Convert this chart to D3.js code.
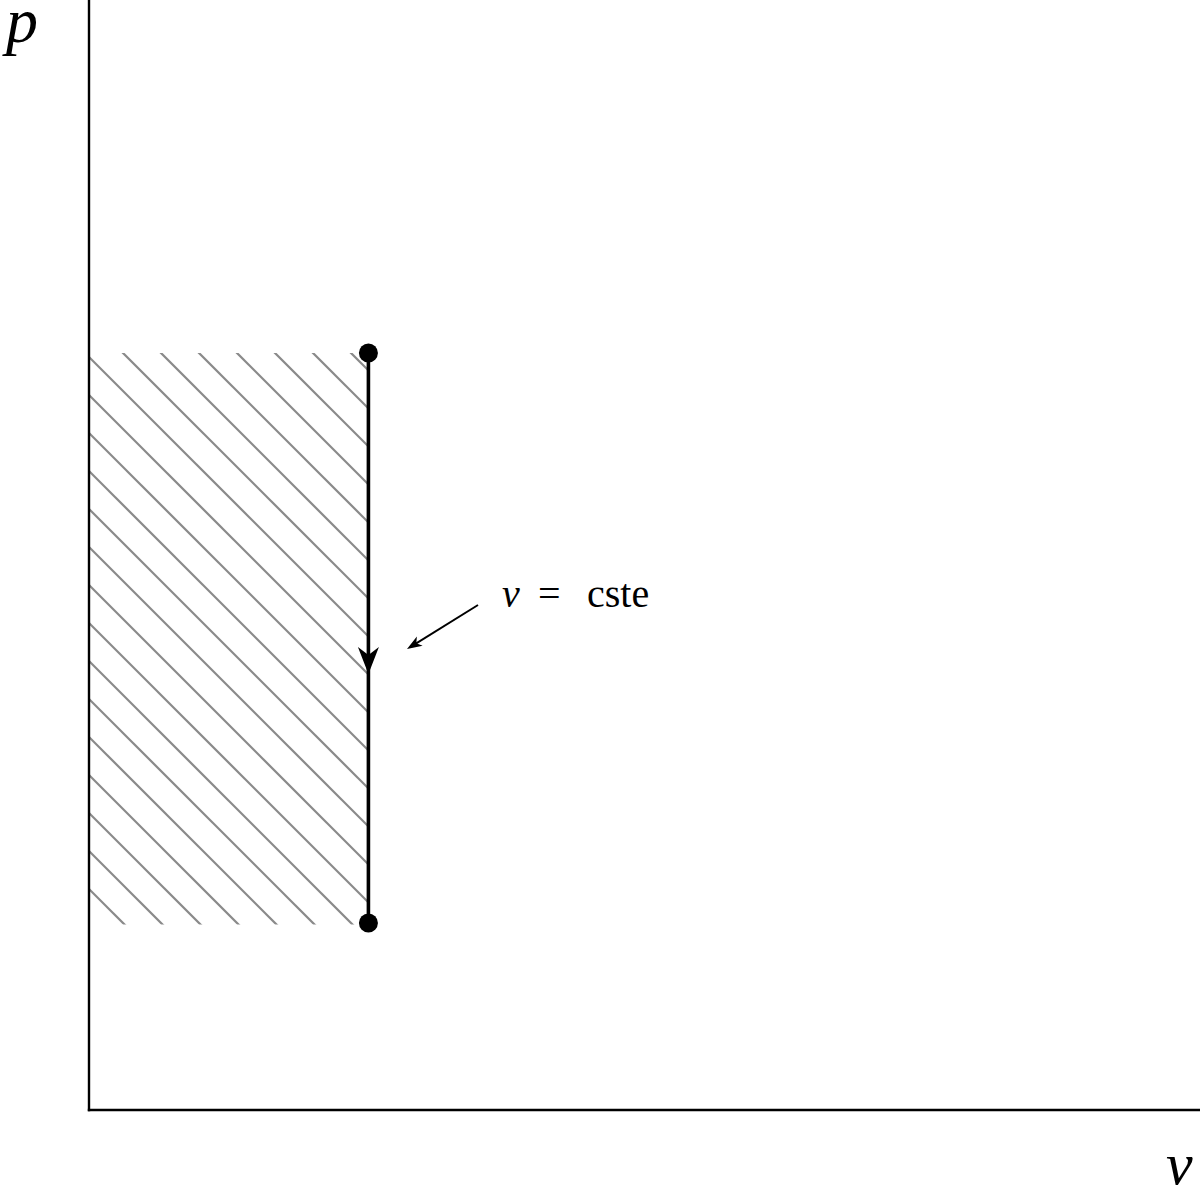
<!DOCTYPE html>
<html>
<head>
<meta charset="utf-8">
<script src="https://cdn.jsdelivr.net/npm/d3@7"></script>
<style>
  html, body { margin: 0; padding: 0; background: #fff; }
  svg { display: block; }
  text { font-family: "Liberation Serif", "Times New Roman", Times, serif; fill: #000; }
</style>
</head>
<body>
<script>
// ---- data ----
const stateLabels = ["1", "2"];          // initial and final states
const stateV = [0.2515, 0.2515];         // specific volume (normalised)
const stateP = [0.682, 0.1685];          // pressure (normalised)
const axisLabels = ["p", "v"];
const annotationText = ["v", "=", "cste"];

const W = 1200, H = 1190;
const svg = d3.select("body").append("svg").attr("width", W).attr("height", H);

const x = d3.scaleLinear().domain([0, 1]).range([89, 1200]);
const y = d3.scaleLinear().domain([0, 1]).range([1110, 0]);

// ---- hatched area under the process ----
const x0 = x(0), x1 = x(stateV[0]);
const yTop = y(stateP[0]), yBot = y(stateP[1]);
svg.append("defs").append("clipPath").attr("id", "hclip")
  .append("rect").attr("x", x0).attr("y", yTop)
  .attr("width", x1 - x0).attr("height", yBot - yTop + 1.5);

const spacing = 38;
const offsets = d3.range(-40, 20).map(k => -2 + spacing * k); // lines x - y = c
svg.append("g").attr("clip-path", "url(#hclip)")
  .selectAll("line").data(offsets).join("line")
  .attr("x1", c => yTop - 50 + c).attr("y1", yTop - 50)
  .attr("x2", c => yBot + 50 + c).attr("y2", yBot + 50)
  .attr("stroke", "#8a8a8a").attr("stroke-width", 2.2);

// ---- axes ----
svg.append("line").attr("x1", x(0)).attr("y1", y(1.0)).attr("x2", x(0)).attr("y2", y(0) + 1.2)
  .attr("stroke", "#000").attr("stroke-width", 2.4);
svg.append("line").attr("x1", x(0) - 1.2).attr("y1", y(0)).attr("x2", x(1)).attr("y2", y(0))
  .attr("stroke", "#000").attr("stroke-width", 2.4);

svg.append("text").attr("x", 6).attr("y", 42).attr("font-size", 64)
  .attr("font-style", "italic").text(axisLabels[0]);
svg.append("text").attr("x", 1166).attr("y", 1184).attr("font-size", 60)
  .attr("font-style", "italic").text(axisLabels[1]);

// ---- isochoric process line ----
svg.append("line")
  .attr("x1", x(stateV[0])).attr("y1", y(stateP[0]))
  .attr("x2", x(stateV[1])).attr("y2", y(stateP[1]))
  .attr("stroke", "#000").attr("stroke-width", 3.6);

// mid arrow
const ax = x(stateV[0]);
const tipY = (y(stateP[0]) + y(stateP[1])) / 2 + 36;
svg.append("path")
  .attr("d", `M${ax},${tipY} L${ax - 10.5},${tipY - 27} L${ax},${tipY - 19} L${ax + 10.5},${tipY - 27} Z`)
  .attr("fill", "#000");

// state points
svg.selectAll("circle.state").data(stateLabels).join("circle")
  .attr("class", "state")
  .attr("cx", (d, i) => x(stateV[i])).attr("cy", (d, i) => y(stateP[i]))
  .attr("r", 9.5).attr("fill", "#000");

// ---- annotation ----
const a1 = [478, 605], a2 = [407, 649];
svg.append("line").attr("x1", a1[0]).attr("y1", a1[1]).attr("x2", a2[0] + 6).attr("y2", a2[1] - 3.7)
  .attr("stroke", "#000").attr("stroke-width", 2);
{
  const ang = Math.atan2(a2[1] - a1[1], a2[0] - a1[0]);
  const L = 15, Wd = 5.5;
  const bx = a2[0] - L * Math.cos(ang), by = a2[1] - L * Math.sin(ang);
  const nx = -Math.sin(ang), ny = Math.cos(ang);
  const nbx = a2[0] - (L - 4) * Math.cos(ang), nby = a2[1] - (L - 4) * Math.sin(ang);
  svg.append("path")
    .attr("d", `M${a2[0]},${a2[1]} L${bx + nx * Wd},${by + ny * Wd} L${nbx},${nby} L${bx - nx * Wd},${by - ny * Wd} Z`)
    .attr("fill", "#000");
}
const t = svg.append("text").attr("y", 607).attr("font-size", 40);
t.append("tspan").attr("x", 502).attr("font-style", "italic").text(annotationText[0]);
t.append("tspan").attr("x", 538).text(annotationText[1]);
t.append("tspan").attr("x", 587).text(annotationText[2]);
</script>
</body>
</html>
